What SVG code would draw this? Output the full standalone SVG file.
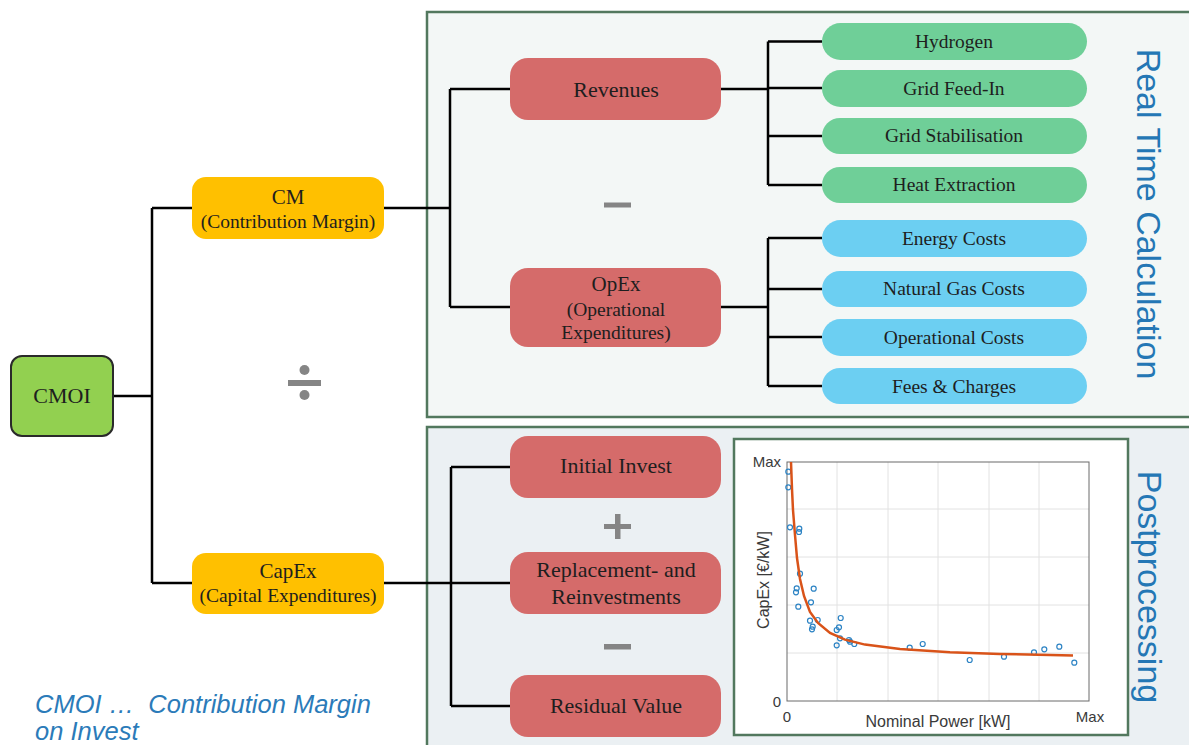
<svg xmlns="http://www.w3.org/2000/svg" width="1189" height="745" viewBox="0 0 1189 745">
<style>
.panel{stroke:#52785e;stroke-width:2.5}
.red{fill:#d56b6a}
.yel{fill:#ffc000}
.grn{fill:#6fcf98}
.blu{fill:#6ccff2}
.t{font-family:"Liberation Serif","Times New Roman",serif;fill:#1e1e1e;text-anchor:middle}
.t22{font-size:22px}
.t21{font-size:21px}
.t19{font-size:19.5px}
.conn{stroke:#000;stroke-width:2.5;fill:none}
.op{fill:#858585}
.side{font-family:"Liberation Sans",Arial,sans-serif;font-size:34px;fill:#2477b5;text-anchor:middle}
.ax{font-family:"Liberation Sans",Arial,sans-serif;fill:#3a3a3a}
.grid{stroke:#e2e2e2;stroke-width:1}
.pt{fill:none;stroke:#2c83c4;stroke-width:1.2}
</style>
<rect width="1189" height="745" fill="#ffffff"/>
<rect class="panel" x="427" y="12" width="770" height="405" fill="#f3f7f6"/>
<rect class="panel" x="427" y="427" width="770" height="330" fill="#ebf0f3"/>

<g id="connectors">
<path class="conn" d="M113,396 H152 M152,208 V583 M152,208 H192 M152,583 H192"/>
<path class="conn" d="M384,208 H450 M450,89 V307 M450,89 H510 M450,307 H510"/>
<path class="conn" d="M384,583 H510 M451,467 V706 M451,467 H510 M451,706 H510"/>
<path class="conn" d="M721,89 H768 M768,41.5 V185 M768,41.5 H822 M768,88 H822 M768,136 H822 M768,185 H822"/>
<path class="conn" d="M721,307 H768 M768,238 V386 M768,238 H822 M768,289 H822 M768,337 H822 M768,386 H822"/>
</g>

<g id="cmoi">
<rect x="11" y="356" width="102" height="80" rx="11" fill="#92d050" stroke="#2a2a2a" stroke-width="2"/>
<text class="t t22" x="62" y="403">CMOI</text>
</g>
<g id="cm">
<rect class="yel" x="192" y="177" width="192" height="62" rx="14"/>
<text class="t t21" x="288" y="204">CM</text>
<text class="t t19" x="288" y="228">(Contribution Margin)</text>
</g>
<g id="capex">
<rect class="yel" x="192" y="553" width="192" height="61" rx="14"/>
<text class="t t21" x="288" y="578">CapEx</text>
<text class="t t19" x="288" y="602">(Capital Expenditures)</text>
</g>
<g id="revenues">
<rect class="red" x="510" y="58" width="211" height="62" rx="18"/>
<text class="t t22" x="616" y="97">Revenues</text>
</g>
<g id="opex">
<rect class="red" x="510" y="268" width="211" height="79" rx="18"/>
<text class="t t21" x="616" y="291">OpEx</text>
<text class="t t19" x="616" y="316">(Operational</text>
<text class="t t19" x="616" y="339">Expenditures)</text>
</g>
<g id="hydrogen"><rect class="grn" x="822" y="23" width="265" height="37" rx="18.5"/><text class="t t19" x="954" y="48">Hydrogen</text></g>
<g id="grid-feed-in"><rect class="grn" x="822" y="70" width="265" height="37" rx="18.5"/><text class="t t19" x="954" y="95">Grid Feed-In</text></g>
<g id="grid-stabilisation"><rect class="grn" x="822" y="118" width="265" height="36" rx="18"/><text class="t t19" x="954" y="142">Grid Stabilisation</text></g>
<g id="heat-extraction"><rect class="grn" x="822" y="167" width="265" height="36" rx="18"/><text class="t t19" x="954" y="191">Heat Extraction</text></g>
<g id="energy-costs"><rect class="blu" x="822" y="220" width="265" height="37" rx="18.5"/><text class="t t19" x="954" y="245">Energy Costs</text></g>
<g id="natural-gas-costs"><rect class="blu" x="822" y="271" width="265" height="36" rx="18"/><text class="t t19" x="954" y="295">Natural Gas Costs</text></g>
<g id="operational-costs"><rect class="blu" x="822" y="319" width="265" height="37" rx="18.5"/><text class="t t19" x="954" y="344">Operational Costs</text></g>
<g id="fees-charges"><rect class="blu" x="822" y="368" width="265" height="36" rx="18"/><text class="t t19" x="954" y="393">Fees &amp; Charges</text></g>

<g id="initial-invest">
<rect class="red" x="510" y="436" width="211" height="62" rx="18"/>
<text class="t t22" x="616" y="473">Initial Invest</text>
</g>
<g id="replacement">
<rect class="red" x="510" y="552" width="211" height="62" rx="18"/>
<text class="t t22" x="616" y="577">Replacement- and</text>
<text class="t t22" x="616" y="604">Reinvestments</text>
</g>
<g id="residual-value">
<rect class="red" x="510" y="675" width="211" height="62" rx="18"/>
<text class="t t22" x="616" y="713">Residual Value</text>
</g>

<g id="operators">
<rect class="op" x="604" y="202.5" width="27" height="5"/>
<rect class="op" x="288" y="380" width="33" height="6"/>
<circle class="op" cx="304.5" cy="370" r="5"/>
<circle class="op" cx="304.5" cy="395" r="5"/>
<rect class="op" x="604" y="524" width="27" height="5"/>
<rect class="op" x="615" y="514" width="5.5" height="25"/>
<rect class="op" x="604" y="644" width="27" height="5.5"/>
</g>

<text class="side" transform="translate(1137,214) rotate(90)">Real Time Calculation</text>
<text class="side" transform="translate(1138,587) rotate(90)">Postprocessing</text>

<g id="chart">
<rect x="734" y="439" width="394" height="296" fill="#ffffff" stroke="#52785e" stroke-width="2.5"/>
<path class="grid" d="M837,462 V701 M888,462 V701 M938,462 V701 M989,462 V701 M1039,462 V701 M787,509 H1089 M787,557 H1089 M787,605 H1089 M787,653 H1089"/>
<rect x="787" y="462" width="302" height="239" fill="none" stroke="#6a6a6a" stroke-width="1"/>
<g class="pt">
<circle cx="788.3" cy="471.7" r="2.5"/><circle cx="788.3" cy="487.3" r="2.5"/><circle cx="790" cy="527.3" r="2.5"/>
<circle cx="799.3" cy="528.7" r="2.5"/><circle cx="799" cy="532" r="2.5"/><circle cx="800" cy="573.7" r="2.5"/>
<circle cx="796" cy="592.3" r="2.5"/><circle cx="796.7" cy="588.3" r="2.5"/><circle cx="798.3" cy="606.7" r="2.5"/>
<circle cx="813.7" cy="588.7" r="2.5"/><circle cx="811" cy="602.3" r="2.5"/><circle cx="810" cy="620.7" r="2.5"/>
<circle cx="812" cy="629.3" r="2.5"/><circle cx="812.7" cy="626.7" r="2.5"/><circle cx="817.7" cy="620" r="2.5"/>
<circle cx="836.7" cy="630" r="2.5"/><circle cx="839" cy="627.3" r="2.5"/><circle cx="840.7" cy="618" r="2.5"/>
<circle cx="840" cy="638.3" r="2.5"/><circle cx="836.7" cy="645.3" r="2.5"/><circle cx="849" cy="640" r="2.5"/>
<circle cx="850" cy="641.7" r="2.5"/><circle cx="854.3" cy="644" r="2.5"/><circle cx="909.7" cy="647.7" r="2.5"/>
<circle cx="922.7" cy="644" r="2.5"/><circle cx="969.7" cy="660" r="2.5"/><circle cx="1004" cy="656.7" r="2.5"/>
<circle cx="1034" cy="652.3" r="2.5"/><circle cx="1044.3" cy="649.3" r="2.5"/><circle cx="1059.3" cy="646.7" r="2.5"/>
<circle cx="1074.3" cy="662.7" r="2.5"/>
</g>
<polyline fill="none" stroke="#d95319" stroke-width="2.5" points="791,462 792,489 793,510 795,535 797,558 800,579 804,596 810,612 818,623 830,633 845,639.6 865,644.6 900,649 950,652.3 1000,654 1073,655.4"/>
<text class="ax" font-size="15" x="781" y="467" text-anchor="end">Max</text>
<text class="ax" font-size="15" x="781" y="707" text-anchor="end">0</text>
<text class="ax" font-size="15" x="787" y="722" text-anchor="middle">0</text>
<text class="ax" font-size="15" x="1090" y="722" text-anchor="middle">Max</text>
<text class="ax" font-size="16" x="938" y="727" text-anchor="middle">Nominal Power [kW]</text>
<text class="ax" font-size="16" text-anchor="middle" transform="translate(769,580) rotate(-90)">CapEx [€/kW]</text>
</g>

<g id="legend">
<text font-family="'Liberation Sans',Arial,sans-serif" font-style="italic" font-size="25.5" fill="#2b7bb9" xml:space="preserve"><tspan x="35" y="713">CMOI …  Contribution Margin</tspan><tspan x="35" y="740">on Invest</tspan></text>
</g>
</svg>
